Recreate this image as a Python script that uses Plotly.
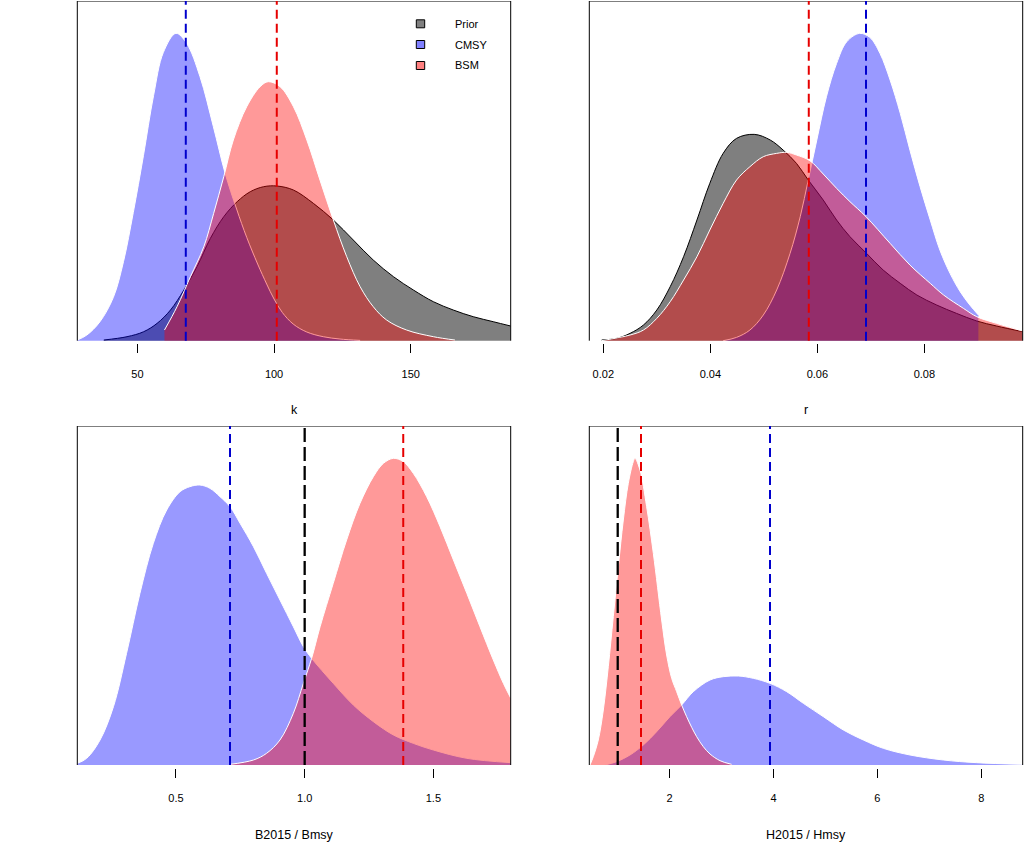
import plotly.graph_objects as go

# ---------------- data ----------------
# Panel 1: k
k_prior_x = [37.7, 46.2, 52.3, 57.2, 62.1, 67.0, 71.8, 76.7, 81.6, 86.5, 91.3, 96.2, 101.1,
             107.1, 114.4, 121.7, 129.0, 136.3, 143.7, 151.0, 158.3, 165.6, 172.9, 180.2, 186.6]
k_prior_y = [0.2, 1.2, 2.7, 5.2, 9.2, 15.2, 22.2, 30.7, 37.2, 41.7, 44.7, 46.2, 46.4,
             45.2, 41.2, 36.2, 30.2, 24.2, 19.2, 15.2, 11.7, 9.2, 7.2, 5.7, 4.4]
k_cmsy_x = [28.0, 31.5, 36.3, 41.2, 44.9, 48.5, 52.2, 55.9, 59.5, 64.1, 68.0, 72.9, 77.8,
            82.1, 86.3, 90.0, 94.0, 97.3, 100.0, 103.0, 107.0, 112.0, 118.0, 124.1, 131.5]
k_cmsy_y = [0.2, 1.7, 5.7, 13.0, 23.7, 38.5, 55.5, 73.5, 86.5, 92.2, 89.2, 79.2, 64.2,
            50.2, 39.5, 31.0, 23.0, 17.0, 12.5, 8.5, 5.0, 2.6, 1.2, 0.5, 0.1]
k_bsm_x = [59.9, 64.5, 69.4, 74.3, 77.9, 81.6, 85.1, 90.0, 94.9, 97.9, 102.2, 107.1, 112.0, 116.8,
           121.7, 126.6, 131.5, 136.3, 141.2, 148.5, 158.3, 166.2]
k_bsm_y = [3.2, 10.2, 19.2, 28.2, 38.2, 49.2, 60.2, 70.2, 76.2, 77.7, 76.2, 70.2, 60.2, 48.2,
           36.2, 25.2, 16.2, 10.2, 6.2, 3.2, 1.2, 0.2]
k_lines = {"CMSY": 67.7, "BSM": 101.0}
k_ticks = [50, 100, 150]
k_ticktext = ["50", "100", "150"]

# Panel 2: r
r_prior_x = [0.0197, 0.0225, 0.0250, 0.0275, 0.0300, 0.0325, 0.0350, 0.0375, 0.0399, 0.0424,
             0.0449, 0.0482, 0.0512, 0.0536, 0.0561, 0.0583, 0.0611, 0.0636, 0.0661, 0.0692,
             0.0723, 0.0755, 0.0786, 0.0823, 0.0860, 0.0898, 0.0935, 0.0984]
r_prior_y = [0.2, 0.7, 2.2, 4.7, 9.2, 16.2, 25.2, 36.2, 47.2, 56.2,
             60.7, 61.9, 60.2, 57.2, 53.2, 48.2, 42.2, 36.2, 31.2, 26.2,
             21.2, 17.2, 13.7, 10.7, 8.2, 5.9, 4.4, 2.7]
r_cmsy_x = [0.0424, 0.0449, 0.0474, 0.0499, 0.0524, 0.0549, 0.0568, 0.0583, 0.0599, 0.0617,
            0.0636, 0.0655, 0.0679, 0.0698, 0.0717, 0.0736, 0.0755, 0.0773, 0.0792, 0.0811,
            0.0829, 0.0848, 0.0867, 0.0885, 0.0901]
r_cmsy_y = [0.0, 1.0, 3.2, 7.7, 15.2, 26.2, 37.2, 48.2, 60.2, 73.2,
            83.2, 89.7, 92.2, 91.0, 86.2, 78.2, 68.2, 57.2, 46.2, 36.2,
            27.2, 20.2, 14.7, 10.7, 7.7]
r_bsm_x = [0.0197, 0.0250, 0.0275, 0.0300, 0.0325, 0.0350, 0.0375, 0.0399, 0.0424, 0.0449,
           0.0474, 0.0499, 0.0524, 0.0543, 0.0561, 0.0586, 0.0611, 0.0636, 0.0661, 0.0691,
           0.0736, 0.0773, 0.0811, 0.0836, 0.0873, 0.0898, 0.0935, 0.0984]
r_bsm_y = [0.0, 1.7, 3.2, 6.7, 11.7, 18.2, 25.2, 33.2, 41.2, 48.2,
           52.2, 55.2, 56.2, 56.5, 55.7, 54.0, 50.0, 45.7, 41.7, 37.2,
           29.2, 22.7, 17.2, 13.7, 9.7, 7.2, 5.2, 2.9]
r_lines = {"BSM": 0.0584, "CMSY": 0.0691}
r_ticks = [0.02, 0.04, 0.06, 0.08]
r_ticktext = ["0.02", "0.04", "0.06", "0.08"]

# Panel 3: B2015 / Bmsy
b_cmsy_x = [0.117, 0.153, 0.205, 0.257, 0.308, 0.360, 0.412, 0.464, 0.516, 0.554,
            0.593, 0.632, 0.671, 0.710, 0.749, 0.801, 0.852, 0.904, 0.956, 0.995,
            1.027, 1.111, 1.189, 1.267, 1.345, 1.422, 1.500, 1.630, 1.801]
b_cmsy_y = [0.5, 2.0, 7.5, 17.5, 33.5, 51.5, 66.5, 76.5, 82.0, 83.5,
            84.0, 83.0, 80.5, 77.5, 72.5, 65.5, 57.5, 49.5, 41.5, 35.5,
            32.0, 24.5, 18.0, 13.0, 9.0, 6.5, 4.5, 2.0, 0.7]
b_bsm_x = [0.710, 0.801, 0.852, 0.904, 0.956, 0.995, 1.027, 1.060, 1.111, 1.163,
           1.215, 1.267, 1.306, 1.345, 1.383, 1.422, 1.474, 1.526, 1.578, 1.630,
           1.681, 1.733, 1.772, 1.801]
b_bsm_y = [0.2, 1.5, 3.5, 7.5, 15.5, 24.5, 32.0, 41.5, 54.5, 67.5,
           78.5, 86.5, 90.5, 92.0, 91.0, 87.5, 80.5, 71.5, 61.5, 51.5,
           41.5, 31.5, 24.5, 20.0]
b_lines = {"CMSY": 0.71, "ref": 1.0, "BSM": 1.383}
b_ticks = [0.5, 1.0, 1.5]
b_ticktext = ["0.5", "1.0", "1.5"]

# Panel 4: H2015 / Hmsy
h_cmsy_x = [0.755, 0.979, 1.236, 1.493, 1.750, 2.006, 2.231, 2.456, 2.777, 3.033,
            3.322, 3.611, 3.932, 4.253, 4.574, 4.959, 5.344, 5.729, 6.114, 6.628,
            7.270, 7.911, 8.797]
h_cmsy_y = [0.0, 1.0, 3.0, 6.0, 10.0, 14.5, 18.0, 22.0, 25.5, 26.5,
            26.7, 26.0, 24.5, 22.0, 18.5, 14.5, 10.5, 7.5, 5.0, 3.0,
            1.5, 0.7, 0.2]
h_bsm_x = [0.466, 0.530, 0.626, 0.723, 0.819, 0.915, 1.012, 1.108, 1.204, 1.300,
           1.332, 1.429, 1.557, 1.686, 1.846, 1.942, 2.039, 2.135, 2.231, 2.327,
           2.424, 2.520, 2.648, 2.777, 2.969, 3.194]
h_bsm_y = [0.0, 2.5, 7.5, 16.5, 29.5, 44.5, 59.5, 73.5, 84.5, 91.0,
           92.0, 88.5, 77.5, 63.5, 43.5, 33.0, 26.0, 22.0, 18.0, 14.5,
           11.3, 8.5, 5.5, 3.3, 1.3, 0.2]
h_lines = {"ref": 1.0, "BSM": 1.448, "CMSY": 3.932}
h_ticks = [2, 4, 6, 8]
h_ticktext = ["2", "4", "6", "8"]

legend_labels = ["Prior", "CMSY", "BSM"]

# ---------------- styling ----------------
W, H = 1024, 850
FONT = "Liberation Sans, Arial, sans-serif"
FILL = {"Prior": "rgba(0,0,0,0.5)", "CMSY": "rgba(0,0,255,0.4)", "BSM": "rgba(255,0,0,0.4)"}
EDGE = {"Prior": "black", "CMSY": "white", "BSM": "white"}
LEG = {"Prior": "rgb(128,128,128)", "CMSY": "rgb(128,128,255)", "BSM": "rgb(255,128,128)"}
VLINE = {"CMSY": ("rgb(0,0,205)", "9px,5px", 2), "BSM": ("rgb(230,0,0)", "9px,5px", 2),
         "ref": ("black", "14px,5px", 2.3)}

def px_x(p):
    return p / W

def px_y(p):
    return 1 - p / H

panels = [
    dict(xr=[28.0, 186.6], xpx=(77.3, 510.7), ypx=(1, 340.7),
         curves=[("Prior", k_prior_x, k_prior_y), ("CMSY", k_cmsy_x, k_cmsy_y), ("BSM", k_bsm_x, k_bsm_y)],
         lines=k_lines, ticks=k_ticks, ticktext=k_ticktext, title="k"),
    dict(xr=[0.01738, 0.09838], xpx=(589.3, 1022.7), ypx=(1, 340.7),
         curves=[("Prior", r_prior_x, r_prior_y), ("CMSY", r_cmsy_x, r_cmsy_y), ("BSM", r_bsm_x, r_bsm_y)],
         lines=r_lines, ticks=r_ticks, ticktext=r_ticktext, title="r"),
    dict(xr=[0.1166, 1.8005], xpx=(77.3, 510.7), ypx=(426, 765),
         curves=[("CMSY", b_cmsy_x, b_cmsy_y), ("BSM", b_bsm_x, b_bsm_y)],
         lines=b_lines, ticks=b_ticks, ticktext=b_ticktext, title="B2015 / Bmsy"),
    dict(xr=[0.453, 8.797], xpx=(589.3, 1022.7), ypx=(426, 765),
         curves=[("CMSY", h_cmsy_x, h_cmsy_y), ("BSM", h_bsm_x, h_bsm_y)],
         lines=h_lines, ticks=h_ticks, ticktext=h_ticktext, title="H2015 / Hmsy"),
]

fig = go.Figure()
shapes = []
annotations = []
UNIT = 0.3  # density units per pixel
GAP = 2.6   # px between baseline and plot-area bottom

for i, p in enumerate(panels, start=1):
    xa = "x" if i == 1 else f"x{i}"
    ya = "y" if i == 1 else f"y{i}"
    xkey = "xaxis" if i == 1 else f"xaxis{i}"
    ykey = "yaxis" if i == 1 else f"yaxis{i}"
    top_px, base_px = p["ypx"]
    ymax = (base_px - top_px) * UNIT
    ymin = -GAP * UNIT

    for name, xs, ys in p["curves"]:
        fig.add_trace(go.Scatter(
            x=xs, y=ys, xaxis=xa, yaxis=ya, mode="lines",
            line=dict(color=EDGE[name], width=1, shape="spline", smoothing=1.0),
            fill="tozeroy", fillcolor=FILL[name], showlegend=False, hoverinfo="skip"))

    fig.layout[xkey] = dict(
        domain=[px_x(p["xpx"][0]), px_x(p["xpx"][1])], range=p["xr"], anchor=ya,
        showgrid=False, zeroline=False, showline=False,
        ticks="outside", ticklen=9, tickwidth=1, tickcolor="black",
        tickvals=p["ticks"], ticktext=p["ticktext"], ticklabelstandoff=11,
        tickfont=dict(family=FONT, size=11, color="black"), fixedrange=True)
    fig.layout[ykey] = dict(
        domain=[px_y(base_px + GAP), px_y(top_px)], range=[ymin, ymax], anchor=xa,
        visible=False, fixedrange=True)

    for (x0, y0, x1, y1) in [(0, 0, 0, ymax), (0, ymax, 1, ymax), (1, 0, 1, ymax)]:
        shapes.append(dict(type="line", xref=f"{xa} domain", yref=ya,
                           x0=x0, x1=x1, y0=y0, y1=y1, line=dict(color="black", width=1)))
    for key, xv in p["lines"].items():
        col, dash, wd = VLINE[key]
        shapes.append(dict(type="line", xref=xa, yref=ya, x0=xv, x1=xv, y0=0, y1=ymax,
                           line=dict(color=col, width=wd, dash=dash)))
    cx = (p["xpx"][0] + p["xpx"][1]) / 2
    ty = 410 if i <= 2 else 835
    annotations.append(dict(text=p["title"], xref="paper", yref="paper",
                            x=px_x(cx), y=px_y(ty), showarrow=False,
                            xanchor="center", yanchor="middle",
                            font=dict(family=FONT, size=12.5, color="black")))

leg_cy = [23.8, 44.5, 65.5]
for lab, cy in zip(legend_labels, leg_cy):
    shapes.append(dict(type="rect", xref="paper", yref="paper",
                       x0=px_x(416.3), x1=px_x(424.7), y0=px_y(cy + 4), y1=px_y(cy - 4),
                       fillcolor=LEG[lab], line=dict(color="black", width=1)))
    annotations.append(dict(text=lab, xref="paper", yref="paper", x=px_x(452.5), y=px_y(cy),
                            showarrow=False, xanchor="left", yanchor="middle",
                            font=dict(family=FONT, size=11, color="black")))

fig.update_layout(width=W, height=H, margin=dict(l=0, r=0, t=0, b=0),
                  paper_bgcolor="white", plot_bgcolor="white",
                  shapes=shapes, annotations=annotations, showlegend=False)

fig.write_html("out.html", config={"displayModeBar": False},
               post_script="document.body.style.margin='0';document.body.style.overflow='hidden';")
